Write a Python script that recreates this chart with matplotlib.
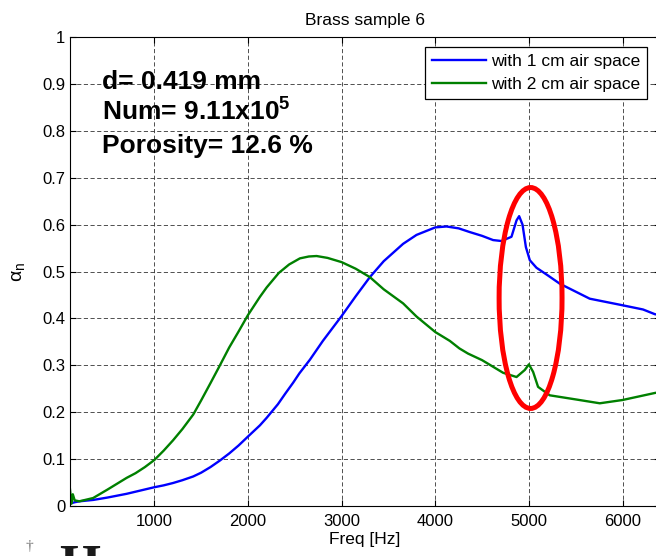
import numpy as np
import matplotlib
matplotlib.use('Agg')
import matplotlib.pyplot as plt
import matplotlib.patches as patches

plt.rcParams['font.family'] = ['Liberation Sans', 'DejaVu Sans']
plt.rcParams['mathtext.fontset'] = 'custom'
plt.rcParams['mathtext.rm'] = 'Liberation Sans'
plt.rcParams['mathtext.bf'] = 'Liberation Sans:bold'
plt.rcParams['mathtext.it'] = 'Liberation Sans:italic'

# Absorption coefficient, 1 cm air space behind the sample
freq_1cm = [100, 150, 200, 350, 500, 705, 1000, 1100, 1200, 1300, 1416, 1500,
            1600, 1701, 1800, 1900, 2000, 2128, 2200, 2320, 2400, 2483, 2550,
            2662, 2800, 3000, 3150, 3302, 3450, 3657, 3800, 4000, 4120, 4250,
            4370, 4500, 4618, 4707, 4814, 4868, 4896, 4932, 4968, 5010, 5081,
            5200, 5330, 5500, 5650, 6000, 6219, 6345, 6400]
alpha_1cm = [0.005, 0.008, 0.010, 0.013, 0.018, 0.026, 0.040, 0.044, 0.049,
             0.055, 0.063, 0.071, 0.083, 0.097, 0.112, 0.129, 0.148, 0.172,
             0.188, 0.217, 0.240, 0.263, 0.283, 0.312, 0.352, 0.405, 0.447,
             0.488, 0.522, 0.559, 0.578, 0.594, 0.596, 0.592, 0.584, 0.576,
             0.567, 0.565, 0.574, 0.609, 0.618, 0.600, 0.552, 0.524, 0.508,
             0.492, 0.474, 0.457, 0.442, 0.428, 0.419, 0.409, 0.407]

# Absorption coefficient, 2 cm air space behind the sample
freq_2cm = [100, 115, 130, 150, 200, 347, 500, 705, 800, 900, 1000, 1100, 1200,
            1300, 1416, 1500, 1600, 1701, 1800, 1900, 2000, 2128, 2200, 2330,
            2440, 2555, 2650, 2733, 2850, 3000, 3150, 3302, 3450, 3657, 3800,
            4000, 4156, 4258, 4350, 4500, 4725, 4868, 4956, 5000, 5045, 5098,
            5223, 5508, 5757, 6000, 6345, 6400]
alpha_2cm = [0.035, 0.005, 0.025, 0.012, 0.010, 0.017, 0.035, 0.060, 0.070,
             0.083, 0.098, 0.118, 0.140, 0.164, 0.195, 0.225, 0.262, 0.300,
             0.338, 0.372, 0.407, 0.446, 0.466, 0.497, 0.515, 0.528, 0.532,
             0.533, 0.529, 0.520, 0.506, 0.488, 0.462, 0.432, 0.404, 0.371,
             0.352, 0.336, 0.325, 0.311, 0.284, 0.275, 0.290, 0.302, 0.286,
             0.254, 0.236, 0.227, 0.219, 0.226, 0.241, 0.243]

labels = ['with 1 cm air space', 'with 2 cm air space']
xticks = [1000, 2000, 3000, 4000, 5000, 6000]
yticks = [0, 0.1, 0.2, 0.3, 0.4, 0.5, 0.6, 0.7, 0.8, 0.9, 1]
ytick_labels = ['0', '0.1', '0.2', '0.3', '0.4', '0.5', '0.6', '0.7', '0.8', '0.9', '1']

fig = plt.figure(figsize=(6.56, 5.56), dpi=100)
ax = fig.add_axes([70 / 656., 50 / 556., 590 / 656., 469 / 556.])

ax.plot(freq_1cm, alpha_1cm, color='#0000ff', lw=1.7, label=labels[0])
ax.plot(freq_2cm, alpha_2cm, color='#008000', lw=1.7, label=labels[1])

# Highlight the resonance near 5 kHz.
ell = patches.Ellipse((5018, 0.4435), 672, 0.471, fill=False,
                      edgecolor='#ff0000', lw=3.6, zorder=5)
ax.add_patch(ell)

ax.set_xlim(100, 6400)
ax.set_ylim(0, 1)
ax.set_xticks(xticks)
ax.set_xticklabels([str(t) for t in xticks])
ax.set_yticks(yticks)
ax.set_yticklabels(ytick_labels)
ax.tick_params(direction='in', length=4.5, width=0.8, top=True, right=True,
               labelsize=12)
ax.tick_params(axis='x', pad=6)
ax.tick_params(axis='y', pad=3.5)
for s in ax.spines.values():
    s.set_linewidth(0.8)

ax.grid(True, color='0.2', lw=0.6, linestyle=(0, (5, 3)))

ax.set_title('Brass sample 6', fontsize=12.5, pad=9)
ax.set_xlabel('Freq [Hz]', fontsize=12.5, labelpad=2)
ax.set_ylabel(u'\u03b1$_\\mathrm{n}$', fontsize=14, labelpad=11)

ax.text(102 / 656., 1 - 89 / 556., 'd= 0.419 mm', transform=fig.transFigure,
        fontsize=19, fontweight='bold', va='baseline')
ax.text(102 / 656., 1 - 121 / 556., r'Num= 9.11x10$^{\mathbf{5}}$',
        transform=fig.transFigure, fontsize=19, fontweight='bold',
        va='baseline')
ax.text(102 / 656., 1 - 153 / 556., 'Porosity= 12.6 %', transform=fig.transFigure,
        fontsize=19, fontweight='bold', va='baseline')

leg = ax.legend(loc='upper right', bbox_to_anchor=(647 / 656., 1 - 47 / 556.),
                bbox_transform=fig.transFigure, borderaxespad=0, fontsize=12.5,
                fancybox=False, framealpha=1, edgecolor='black',
                handlelength=3.1, handletextpad=0.3, labelspacing=0.45,
                borderpad=0.4)
leg.get_frame().set_linewidth(0.9)

# Fragment of the next page at the bottom edge
fig.text(29 / 656., 1 - 547 / 556., u'\u2020', fontsize=11, color='0.45',
         ha='center', va='center', family=['Liberation Serif'])
fig.text(80 / 656., -0.045, 'H', fontsize=38, fontweight='bold', color='0.1',
         ha='center', va='baseline', family=['Liberation Serif'])

fig.savefig('out.png', dpi=100)
